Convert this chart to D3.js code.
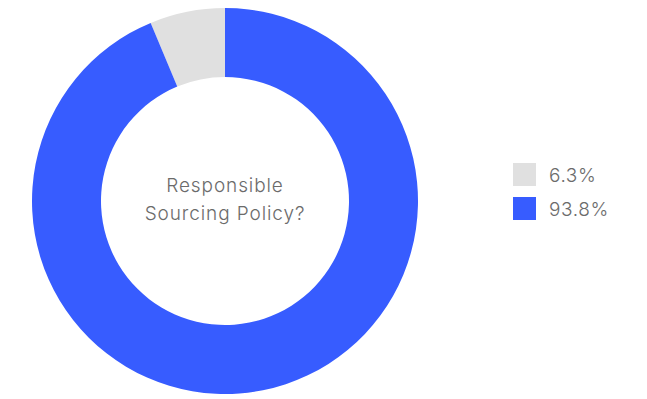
<!DOCTYPE html>
<html>
<head>
<meta charset="utf-8">
<script src="https://cdn.jsdelivr.net/npm/d3@7"></script>
<style>
  html, body { margin: 0; padding: 0; background: #fff; }
  svg { display: block; font-family: Inter, "Noto Sans", sans-serif; }
</style>
</head>
<body>
<svg id="chart" width="647" height="399"></svg>
<script>
// Share of respondents with a responsible sourcing policy
const categories = ["No", "Yes"];
const values = [6.3, 93.8];
const labels = ["6.3%", "93.8%"];
const colors = ["#e0e0e0", "#375cff"];
const centerTitle = ["Responsible", "Sourcing Policy?"];

const svg = d3.select("#chart");
const cx = 225, cy = 201, outerR = 193, innerR = 124;

const total = d3.sum(values);
const startAngle = -2 * Math.PI * values[0] / total;

const pie = d3.pie().sort(null).value(d => d)
  .startAngle(startAngle).endAngle(startAngle + 2 * Math.PI);
const arc = d3.arc().innerRadius(innerR).outerRadius(outerR);

const g = svg.append("g").attr("transform", `translate(${cx},${cy})`);
g.selectAll("path")
  .data(pie(values))
  .join("path")
  .attr("d", arc)
  .attr("fill", (d, i) => colors[i]);

g.append("text")
  .attr("text-anchor", "middle")
  .attr("fill", "#6b6b6b")
  .attr("font-size", 19)
  .attr("font-weight", 300)
  .attr("letter-spacing", 0.9)
  .selectAll("tspan")
  .data(centerTitle)
  .join("tspan")
  .attr("x", 0)
  .attr("y", (d, i) => -9 + i * 28)
  .text(d => d);

// Legend
const legendY = d3.scaleBand().domain(categories).range([163, 231]).paddingInner(0.0);
const legend = svg.append("g");
const items = legend.selectAll("g")
  .data(categories)
  .join("g")
  .attr("transform", d => `translate(513,${legendY(d)})`);
items.append("rect")
  .attr("width", 23).attr("height", 23)
  .attr("fill", (d, i) => colors[i]);
items.append("text")
  .attr("x", 36).attr("y", 19)
  .attr("fill", "#6b6b6b")
  .attr("font-size", 19)
  .attr("font-weight", 300)
  .attr("letter-spacing", 0.6)
  .text((d, i) => labels[i]);
</script>
</body>
</html>
